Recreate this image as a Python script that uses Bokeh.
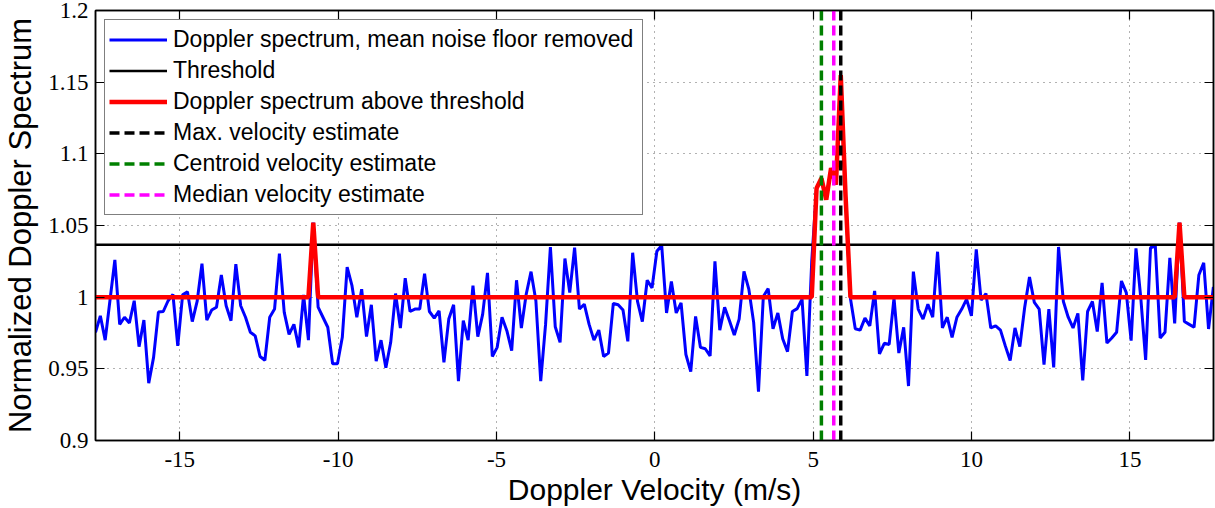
from bokeh.plotting import figure
from bokeh.models import (Range1d, FixedTicker, LinearAxis, Legend, LegendItem,
                          CustomLabelingPolicy)
from bokeh.embed import file_html
from bokeh.resources import INLINE

# ---------------- data ----------------
VELOCITY_START = -17.66      # m/s, first Doppler bin
VELOCITY_STEP = 0.1528       # m/s, bin width

spectrum = [
    0.9755, 0.987, 0.970, 0.998, 1.026, 0.981, 0.986, 0.982, 0.9975, 0.9655,
    0.984, 0.940, 0.958, 0.9896, 0.990, 0.9975, 1.002, 0.966, 1.0016, 1.0037,
    0.983, 0.997, 1.0234, 0.984, 0.991, 0.993, 1.0155, 0.994, 0.9836, 1.023,
    0.994, 0.986, 0.9755, 0.973, 0.9586, 0.956, 0.986, 0.9917, 1.0303, 0.9894,
    0.974, 0.981, 0.965, 1.0016, 0.970, 1.052, 0.993, 0.986, 0.979, 0.9535,
    0.9535, 0.972, 1.021, 1.008, 0.986, 1.0056, 0.9725, 0.9947, 0.9553, 0.970,
    0.9507, 0.9685, 1.0025, 0.9785, 1.0132, 0.990, 0.9917, 0.9917, 1.0164, 0.990,
    0.9854, 0.9905, 0.9546, 0.9847, 0.9947, 0.9414, 0.9836, 0.970, 1.008, 0.9725,
    0.988, 1.017, 0.9586, 0.965, 0.986, 0.9766, 0.9627, 1.0118, 0.9785, 1.002,
    1.0178, 0.9975, 0.9414, 0.981, 1.035, 0.9794, 0.9685, 1.027, 1.0032, 1.0345,
    0.9917, 0.9951, 0.981, 0.970, 0.977, 0.9586, 0.961, 0.9956, 0.9947, 0.991,
    0.9692, 1.031, 0.997, 0.983, 1.0118, 1.0065, 1.032, 1.036, 0.989, 1.011,
    0.989, 0.996, 0.960, 0.948, 0.9866, 0.965, 0.964, 0.959, 1.025, 0.977,
    0.993, 0.9836, 0.9736, 0.9847, 1.018, 1.0056, 0.9824, 0.934, 1.0005, 1.006,
    0.978, 0.989, 0.971, 0.962, 0.990, 0.992, 0.9986, 0.945, 1.025, 1.076,
    1.083, 1.068, 1.090, 1.0785, 1.155, 1.070, 0.999, 0.978, 0.977, 0.9854,
    0.980, 1.0044, 0.9604, 0.9678, 0.967, 0.9993, 0.961, 0.979, 0.938, 1.0178,
    0.9917, 0.9847, 0.995, 0.986, 1.0317, 0.9785, 0.986, 0.972, 0.986, 0.9917,
    0.9986, 0.987, 1.0333, 0.998, 1.0025, 0.9785, 0.980, 0.977, 0.966, 0.9558,
    0.9785, 0.9655, 0.9928, 1.014, 0.9963, 0.9917, 0.953, 0.9917, 0.951, 1.035,
    0.997, 0.986, 0.9785, 0.9887, 0.942, 0.990, 0.997, 0.976, 1.010, 0.968,
    0.9715, 0.9755, 1.0113, 1.0032, 0.9697, 1.034, 0.9993, 0.9562, 1.0345, 1.0357,
    0.9715, 0.9755, 1.0275, 0.9817, 1.052, 0.983, 0.981, 0.979, 1.0155, 1.024,
    0.9778, 1.0072,
]

THRESHOLD = 1.0366
NOISE_FLOOR = 1.0
MAX_VELOCITY = 5.87
CENTROID_VELOCITY = 5.26
MEDIAN_VELOCITY = 5.65

X_LIMITS = [-17.66, 17.64]
Y_LIMITS = [0.9, 1.2]
X_TICKS = [-15, -10, -5, 0, 5, 10, 15]
X_TICK_LABELS = ["-15", "-10", "-5", "0", "5", "10", "15"]
Y_TICKS = [0.9, 0.95, 1.0, 1.05, 1.1, 1.15, 1.2]
Y_TICK_LABELS = ["0.9", "0.95", "1", "1.05", "1.1", "1.15", "1.2"]

LEGEND_LABELS = [
    "Doppler spectrum, mean noise floor removed",
    "Threshold",
    "Doppler spectrum above threshold",
    "Max. velocity estimate",
    "Centroid velocity estimate",
    "Median velocity estimate",
]

# derived tables
velocity = [VELOCITY_START + i * VELOCITY_STEP for i in range(len(spectrum))]
above = [v if v > THRESHOLD else NOISE_FLOOR for v in spectrum]

# ---------------- figure ----------------
TICK_FONT = "Liberation Sans Narrow"
TEXT_FONT = "Liberation Sans"

p = figure(width=1215, height=508,
           x_range=Range1d(*X_LIMITS), y_range=Range1d(*Y_LIMITS),
           output_backend="svg", toolbar_location=None,
           min_border_left=95, min_border_right=2,
           min_border_top=10, min_border_bottom=66)
p.background_fill_color = "white"
p.border_fill_color = "white"
p.outline_line_color = "black"
p.outline_line_width = 1.5

xticker = FixedTicker(ticks=X_TICKS, minor_ticks=[])
yticker = FixedTicker(ticks=Y_TICKS, minor_ticks=[])


def style_axis(ax, ticker, overrides, show_labels=True):
    ax.ticker = ticker
    ax.major_tick_in = 9
    ax.major_tick_out = 0
    ax.minor_tick_in = 0
    ax.minor_tick_out = 0
    ax.axis_line_color = "black"
    ax.axis_line_width = 1.5
    ax.major_tick_line_color = "black"
    ax.major_tick_line_width = 1.2
    ax.major_label_overrides = overrides
    if show_labels:
        ax.major_label_text_font = TICK_FONT
        ax.major_label_text_font_size = "23px"
        ax.major_label_text_color = "black"
    else:
        # mirrored box ticks only: label none of them and reserve no space
        ax.major_label_policy = CustomLabelingPolicy(
            code="for (const i of Array.from(indices)) { indices.unset(i) }\nreturn indices")
        ax.major_label_text_font_size = "0px"
        ax.major_label_standoff = 0


x_over = dict(zip(X_TICKS, X_TICK_LABELS))
y_over = dict(zip(Y_TICKS, Y_TICK_LABELS))

style_axis(p.xaxis[0], xticker, x_over)
style_axis(p.yaxis[0], yticker, y_over)
p.xaxis[0].major_label_standoff = 11
p.yaxis[0].major_label_standoff = 7

p.xaxis[0].axis_label = "Doppler Velocity (m/s)"
p.yaxis[0].axis_label = "Normalized Doppler Spectrum"
for ax in (p.xaxis[0], p.yaxis[0]):
    ax.axis_label_text_font = TEXT_FONT
    ax.axis_label_text_font_style = "normal"
    ax.axis_label_text_color = "black"
p.xaxis[0].axis_label_text_font_size = "30px"
p.yaxis[0].axis_label_text_font_size = "31px"
p.xaxis[0].axis_label_standoff = 3
p.yaxis[0].axis_label_standoff = 7

top_axis = LinearAxis()
style_axis(top_axis, xticker, x_over, show_labels=False)
right_axis = LinearAxis()
style_axis(right_axis, yticker, y_over, show_labels=False)
p.add_layout(top_axis, "above")
p.add_layout(right_axis, "right")

p.xgrid.ticker = xticker
p.ygrid.ticker = yticker
for g in (p.xgrid, p.ygrid):
    g.grid_line_color = "#555555"
    g.grid_line_width = 1
    g.grid_line_dash = "1 5"
    g.grid_line_alpha = 0.9

r_blue = p.line(velocity, spectrum, line_color="#0000FF", line_width=3)
r_thr = p.line(X_LIMITS, [THRESHOLD, THRESHOLD], line_color="black", line_width=2.5)
r_red = p.line(velocity, above, line_color="#FF0000", line_width=4.5)
r_max = p.line([MAX_VELOCITY, MAX_VELOCITY], Y_LIMITS, line_color="black",
               line_width=3.5, line_dash="10 5")
r_cen = p.line([CENTROID_VELOCITY, CENTROID_VELOCITY], Y_LIMITS, line_color="#008000",
               line_width=3.5, line_dash="10 5")
r_med = p.line([MEDIAN_VELOCITY, MEDIAN_VELOCITY], Y_LIMITS, line_color="#FF00FF",
               line_width=3.5, line_dash="10 5")

renderers = [r_blue, r_thr, r_red, r_max, r_cen, r_med]
legend = Legend(items=[LegendItem(label=lab, renderers=[r])
                       for lab, r in zip(LEGEND_LABELS, renderers)],
                location="top_left")
legend.margin = 9
legend.padding = 4
legend.spacing = 0
legend.glyph_width = 58
legend.glyph_height = 31
legend.label_height = 31
legend.label_width = 465
legend.label_standoff = 6
legend.label_text_font = TEXT_FONT
legend.label_text_font_size = "23px"
legend.label_text_color = "black"
legend.border_line_color = "black"
legend.border_line_width = 1
legend.background_fill_color = "white"
legend.background_fill_alpha = 1.0
p.add_layout(legend)

open("out.html", "w").write(file_html(p, INLINE))
